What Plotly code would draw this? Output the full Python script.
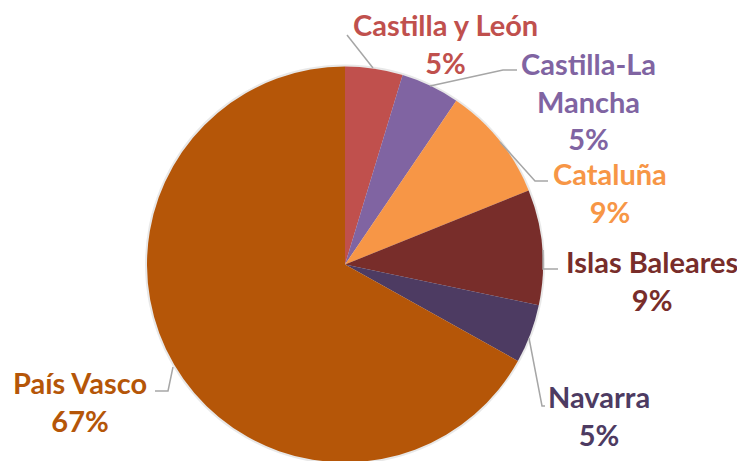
import plotly.graph_objects as go

# ---- data ----
regions = ["Castilla y León", "Castilla-La Mancha", "Cataluña", "Islas Baleares", "Navarra", "País Vasco"]
label_lines = ["Castilla y León", "Castilla-La<br>Mancha", "Cataluña", "Islas Baleares", "Navarra", "País Vasco"]
shares = [4.7, 4.8, 9.4, 9.4, 4.8, 66.9]
colors = ["#C0504D", "#8064A2", "#F79646", "#782D2A", "#4D3B62", "#B55608"]

W, H = 745, 461
OFF = 8  # default page body margin

def px(x):
    return (x - OFF) / W

def py(y):
    return 1 - (y - OFF) / H

fig = go.Figure()

# soft shadow behind pie
fig.add_trace(go.Pie(
    values=[1], marker=dict(colors=["rgba(0,0,0,0.09)"], line=dict(width=0)),
    textinfo="none", hoverinfo="skip", showlegend=False, sort=False,
    domain=dict(x=[px(145), px(545)], y=[py(465), py(64)]),
))

fig.add_trace(go.Pie(
    labels=regions, values=shares, sort=False, direction="clockwise", rotation=0,
    marker=dict(colors=colors, line=dict(width=0)),
    textinfo="none", showlegend=False,
    domain=dict(x=[px(147), px(543)], y=[py(462.5), py(66.5)]),
))

total = sum(shares)
# label positions (layout only)
label_pos = [(445, 44), (588, 101), (610, 192), (652, 280), (599, 415), (80, 401)]
for lab, v, col, (x, y) in zip(label_lines, shares, colors, label_pos):
    pct = round(v / total * 100)
    fig.add_annotation(
        x=px(x), y=py(y), xref="paper", yref="paper",
        text=f"<b>{lab}<br>{pct}%</b>", showarrow=False,
        xanchor="center", yanchor="middle", align="center",
        font=dict(family="Lato", size=29, color=col),
    )

# leader lines
leaders = [
    [(347, 35), (373, 68)],
    [(517, 70), (503, 70), (430, 86)],
    [(500, 142), (535, 181), (548, 181)],
    [(543, 250), (543, 269), (558, 269)],
    [(529, 338), (542, 406), (545, 406)],
    [(155, 391), (168, 391), (173, 367)],
]
for pts in leaders:
    path = "M " + " L ".join(f"{px(x)},{py(y)}" for x, y in pts)
    fig.add_shape(type="path", path=path, xref="paper", yref="paper",
                  line=dict(color="#A6A6A6", width=1.5))

fig.update_layout(
    width=W, height=H, margin=dict(l=0, r=0, t=0, b=0),
    paper_bgcolor="white", plot_bgcolor="white",
)

fig.write_html("out.html")
